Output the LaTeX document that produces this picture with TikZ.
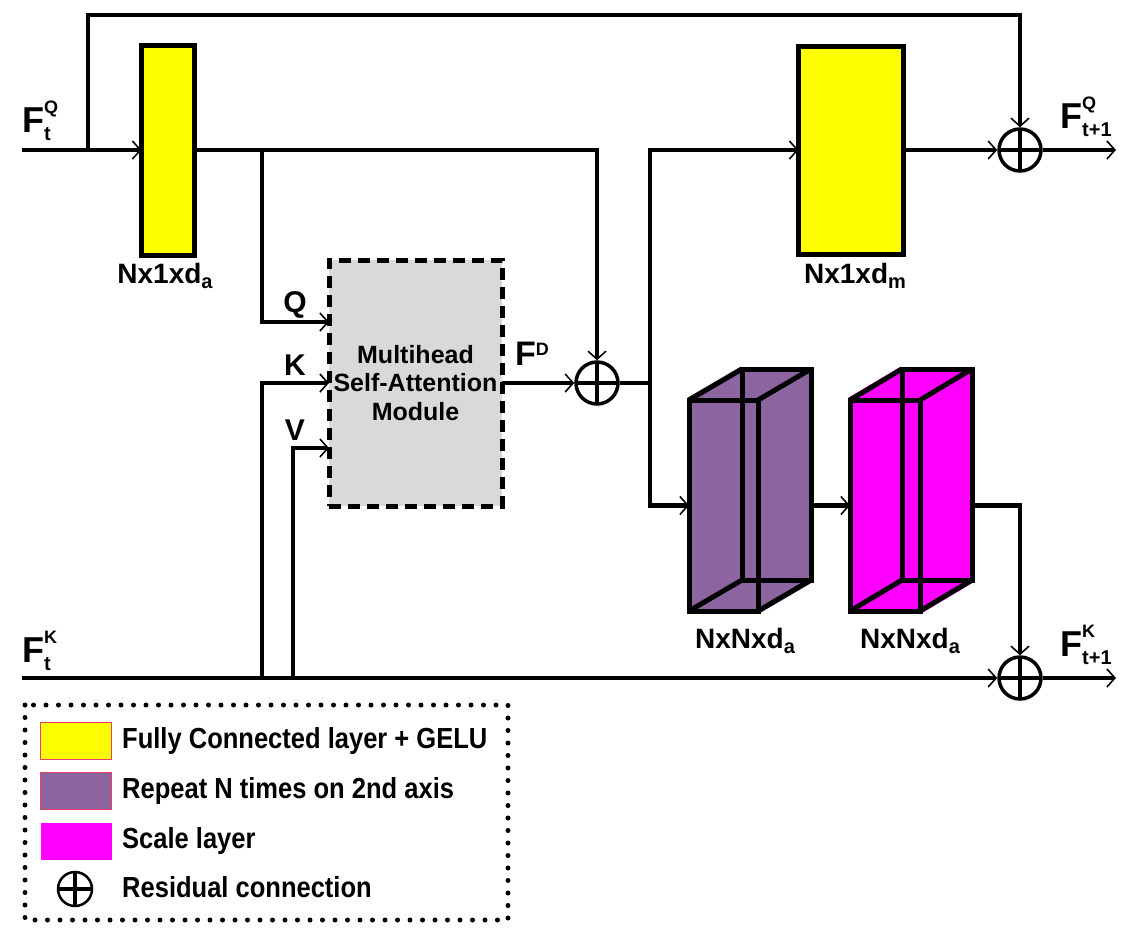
\documentclass[tikz,border=0pt]{standalone}
\usepackage{fontspec}
\setmainfont{Liberation Sans}
\newfontfamily\legendfont[FakeStretch=0.88]{Liberation Sans}
\usetikzlibrary{arrows.meta,positioning}
\definecolor{fcyellow}{HTML}{FFFF00}
\definecolor{reppurple}{HTML}{8B64A0}
\definecolor{sclmagenta}{HTML}{FF00FF}
\definecolor{msagray}{HTML}{D9D9D9}
\definecolor{swatchred}{HTML}{E8406A}
\newcommand{\flab}[2]{\fontsize{36}{36}\selectfont F\rlap{\raisebox{19pt}{\fontsize{18}{18}\selectfont #1}}\raisebox{-8pt}{\fontsize{20}{20}\selectfont #2}}
\newcommand{\dimsub}[1]{\raisebox{-5pt}{\fontsize{20}{20}\selectfont #1}}
\tikzset{
    wire/.style = {line width=4.5pt, -{Straight Barb[length=8pt, width=18pt, line width=1.6pt]}},
    fc-box/.style = {draw, fill=fcyellow, line width=5pt, rectangle, inner sep=0pt, outer sep=0pt},
    msa-box/.style = {draw, fill=msagray, line width=5pt, dash pattern=on 12pt off 7pt, rectangle, align=center, font=\bfseries\fontsize{25}{28.5}\selectfont, minimum width=173pt, minimum height=246pt, outer sep=0pt},
    face/.style = {draw, line width=5pt, rectangle, inner sep=0pt, outer sep=0pt, minimum width=69pt, minimum height=211pt},
    oplus/.style = {circle, draw, fill=white, line width=3.5pt, minimum size=42pt, inner sep=0pt, path picture={\draw[line width=3.5pt] (path picture bounding box.north) -- (path picture bounding box.south) (path picture bounding box.west) -- (path picture bounding box.east);}},
    dim-label/.style = {font=\bfseries\fontsize{28}{28}\selectfont, inner sep=0pt},
    qkv-label/.style = {font=\bfseries\fontsize{30}{30}\selectfont, anchor=base, inner sep=0pt},
    swatch/.style = {draw=swatchred, line width=1pt, minimum width=71pt, minimum height=37pt, inner sep=0pt},
    legend-text/.style = {font=\legendfont\bfseries\fontsize{29}{29}\selectfont, anchor=west, inner sep=0pt},
}
\begin{document}
\begin{tikzpicture}[x=1pt, y=-1pt, font=\bfseries]
\useasboundingbox (0,0) rectangle (1130,930);

% blocks
\node [fc-box, minimum width=53pt, minimum height=210pt] (fcA) at (168,150) {};
\node [fc-box, minimum width=105pt, minimum height=208pt] (fcM) at (851,150) {};
\node [msa-box] (msa) at (415.5,383) {Multihead\\Self-Attention\\Module};
\node [oplus] (sumA) at (597,383) {};
\node [oplus] (sumQ) at (1020,150) {};
\node [oplus] (sumK) at (1020,678) {};

% repeat cuboid
\fill [reppurple] (687,398) -- (740,367) -- (813,367) -- (813,582) -- (760,613) -- (687,613) -- cycle;
\node [face] (repB) at (776.5,474.5) {};
\node [face] (repF) at (723.5,505.5) {};
\foreach \c in {north west, north east, south east, south west}
    \draw [line width=5pt] (repF.\c) -- (repB.\c);

% scale cuboid
\fill [sclmagenta] (848,398) -- (900,367) -- (974,367) -- (974,582) -- (922,613) -- (848,613) -- cycle;
\node [face, minimum width=70pt] (sclB) at (937,474.5) {};
\node [face, minimum width=70pt] (sclF) at (885,505.5) {};
\foreach \c in {north west, north east, south east, south west}
    \draw [line width=5pt] (sclF.\c) -- (sclB.\c);

% connectors
\coordinate (inQ) at (22,150);
\coordinate (inK) at (22,678);
\coordinate (outQ) at (1116,150);
\coordinate (outK) at (1116,678);
\coordinate (tapQ) at (88,150);
\coordinate (topQ) at (88,15);
\coordinate (tapA) at (262,150);
\coordinate (tapK) at (262,678);
\coordinate (tapV) at (293,678);
\coordinate (split) at (650,383);

\draw [wire] (inQ) -- (fcA.west);
\draw [wire] (tapQ) -- (topQ) -| (sumQ.north);
\draw [wire] (fcA.east) -| (sumA.north);
\draw [wire] (tapA) |- ([yshift=61pt]msa.west);
\draw [wire] (tapK) |- (msa.west);
\draw [wire] (tapV) |- ([yshift=-65pt]msa.west);
\draw [wire] (msa.east) -- (sumA.west);
\draw [line width=4.5pt] (sumA.east) -- (split);
\draw [wire] (split) |- (fcM.west);
\draw [wire] (split) |- (repF.west);
\draw [wire] (repB.east |- repF.west) -- (sclF.west);
\draw [wire] (sclB.east |- sclF.west) -| (sumK.north);
\draw [wire] (fcM.east) -- (sumQ.west);
\draw [wire] (sumQ.east) -- (outQ);
\draw [wire] (inK) -- (sumK.west);
\draw [wire] (sumK.east) -- (outK);

% labels
\node [anchor=base west, inner sep=0pt] (lblInQ) at (22,132) {\flab{Q}{t}};
\node [anchor=base west, inner sep=0pt] (lblInK) at (22,662) {\flab{K}{t}};
\node [anchor=base west, inner sep=0pt] (lblOutQ) at (1060,128) {\flab{Q}{t+1}};
\node [anchor=base west, inner sep=0pt] (lblOutK) at (1060,656) {\flab{K}{t+1}};
\node [anchor=base west, inner sep=0pt] (lblFD) at (515,365) {\fontsize{34}{34}\selectfont F\raisebox{10pt}{\fontsize{18}{18}\selectfont D}};
\node [qkv-label] (lblQ) at (295,312) {Q};
\node [qkv-label] (lblK) at (295,375) {K};
\node [qkv-label] (lblV) at (295,440) {V};
\node [dim-label, anchor=base] (dimA) at (165,283) {Nx1xd\dimsub{a}};
\node [dim-label, anchor=base] (dimM) at (855,283) {Nx1xd\dimsub{m}};
\node [dim-label, anchor=base] (dimRep) at (745,648) {NxNxd\dimsub{a}};
\node [dim-label, anchor=base] (dimScl) at (910,648) {NxNxd\dimsub{a}};

% legend
\draw [line width=5pt, dash pattern=on 0pt off 12.5pt, line cap=round] (25,705) rectangle (508,920);
\node [swatch, fill=fcyellow] (lgFC) at (76,741) {};
\node [swatch, fill=reppurple] (lgRep) at (76,791) {};
\node [swatch, fill=sclmagenta, draw=none] (lgScl) at (76,841) {};
\node [oplus, minimum size=34pt, line width=2.5pt] (lgSum) at (75,889) {};
\node [legend-text] (lgFCtext) at (122,741) {Fully Connected layer + GELU};
\node [legend-text] (lgReptext) at (122,791) {Repeat N times on 2nd axis};
\node [legend-text] (lgScltext) at (122,841) {Scale layer};
\node [legend-text] (lgSumtext) at (122,887) {Residual connection};
\end{tikzpicture}
\end{document}
